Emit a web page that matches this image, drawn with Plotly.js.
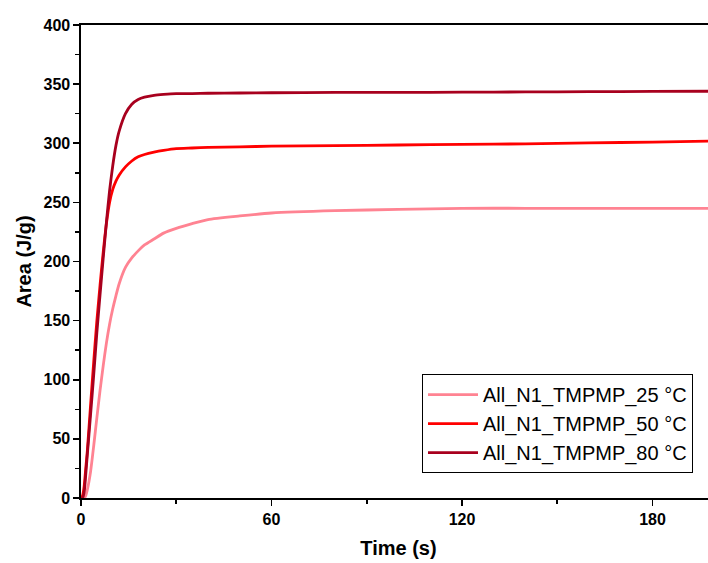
<!DOCTYPE html>
<html>
<head>
<meta charset="utf-8">
<script src="https://cdn.plot.ly/plotly-3.0.1.min.js"></script>
<style>
html,body{margin:0;padding:0;overflow:hidden;background:#fff;}
#chart{width:718px;height:563px;}
</style>
</head>
<body>
<div id="chart"></div>
<script>
// Time (s)
const time = [0, 0.5, 1, 1.5, 2, 3, 4, 5, 6, 7, 8, 9, 10, 11, 12, 14, 16, 18, 20, 23, 26, 30, 35, 40, 50, 60, 80, 100, 120, 140, 160, 180, 200];
// Area (J/g)
const area25 = [0, 0, 0, 2, 7, 22, 44, 68, 91, 112, 131, 147, 160, 171, 181, 195, 203, 209, 214, 219, 224, 228, 232, 235.5, 238.5, 241, 243, 244, 245, 245, 245, 245, 245];
const area50 = [0, 2, 10, 25, 40, 78, 115, 150, 180, 208, 232, 250, 261, 268, 273, 280, 285, 288.5, 290.5, 292.5, 294, 295.5, 296, 296.5, 297, 297.5, 298, 298.5, 299, 299.5, 300.3, 301, 302];
const area80 = [0, 0, 5, 20, 37, 70, 104, 140, 172, 203, 233, 260, 281, 298, 310, 325, 333, 337, 339, 340.5, 341.3, 342, 342, 342.3, 342.5, 342.7, 343, 343, 343.2, 343.4, 343.6, 343.8, 344];
const seriesNames = ["All_N1_TMPMP_25 °C", "All_N1_TMPMP_50 °C", "All_N1_TMPMP_80 °C"];
const seriesColors = ["#FF8392", "#FF0000", "#A8001E"];
const seriesData = [area25, area50, area80];

const traces = seriesData.map((y, i) => ({
  x: time, y: y, type: "scatter", mode: "lines",
  name: seriesNames[i],
  line: {color: seriesColors[i], width: 2.8, shape: "spline", smoothing: 0.6}
}));

const font = "Liberation Sans, Arial, sans-serif";
const layout = {
  width: 718, height: 563,
  margin: {l: 81, r: 0, t: 25, b: 65},
  paper_bgcolor: "#fff", plot_bgcolor: "#fff",
  showlegend: true,
  legend: {
    x: 0.537, y: 0.262, xanchor: "left", yanchor: "top",
    bgcolor: "#fff", bordercolor: "#000", borderwidth: 1,
    font: {family: font, size: 20, color: "#000"},
    itemwidth: 50, tracegroupgap: 0
  },
  xaxis: {
    range: [0, 200], tickvals: [0, 60, 120, 180],
    showgrid: false, zeroline: false,
    showline: true, linecolor: "#000", linewidth: 1.6, mirror: true,
    ticks: "outside", ticklen: 6, tickwidth: 1.6, tickcolor: "#000",
    minor: {tickvals: [30, 90, 150], ticks: "outside", ticklen: 4, tickwidth: 1.6, tickcolor: "#000"},
    tickfont: {family: font, size: 16, weight: "bold", color: "#000"},
    title: {text: "Time (s)", font: {family: font, size: 20, weight: "bold", color: "#000"}, standoff: 14}
  },
  yaxis: {
    range: [0, 400], dtick: 50, automargin: true,
    showgrid: false, zeroline: false,
    showline: true, linecolor: "#000", linewidth: 1.6, mirror: true,
    ticks: "outside", ticklen: 6, tickwidth: 1.6, tickcolor: "#000",
    minor: {dtick: 25, ticks: "outside", ticklen: 4, tickwidth: 1.6, tickcolor: "#000"},
    tickfont: {family: font, size: 16, weight: "bold", color: "#000"},
    title: {text: "Area (J/g)", font: {family: font, size: 20, weight: "bold", color: "#000"}, standoff: 6}
  }
};
Plotly.newPlot("chart", traces, layout, {displayModeBar: false, staticPlot: true});
</script>
</body>
</html>
